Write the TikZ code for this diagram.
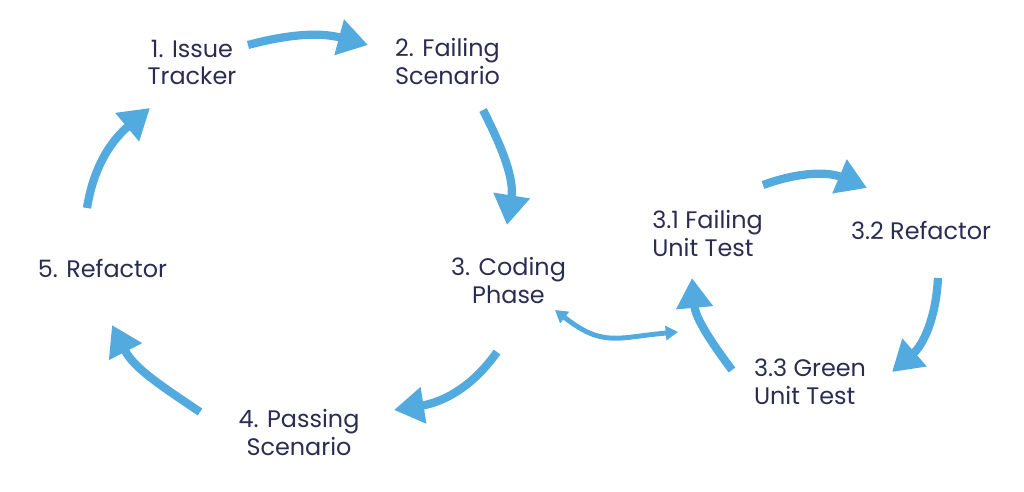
\documentclass[tikz,border=0pt]{standalone}
\usepackage{fontspec}
\setmainfont{Poppins}
\usetikzlibrary{arrows.meta}
\definecolor{flowblue}{RGB}{83,170,222}
\definecolor{inkblue}{RGB}{42,44,82}

\begin{document}
\begin{tikzpicture}[x=0.02cm,y=0.02cm]
    \tikzstyle{every node}=[text=inkblue,font=\fontsize{13.6}{15.9}\selectfont,inner sep=0pt]
    \tikzstyle{flow}=[draw=flowblue,line width=4.7pt,-{Triangle[length=17pt,width=20pt]}]
    \tikzstyle{link}=[draw=flowblue,line width=2.8pt,{Triangle[length=7pt,width=8pt]}-{Triangle[length=7pt,width=8pt]}]
    \useasboundingbox (0,0) rectangle (1024,491);

    % outer loop
    \node[align=center] (issue) at (192,428.5) {1. Issue\\Tracker};
    \node[align=center] (fail) at (447.5,429.5) {2. Failing\\Scenario};
    \node[align=center] (code) at (508.5,210.5) {3. Coding\\Phase};
    \node[align=center] (pass) at (299,58.5) {4. Passing\\Scenario};
    \node (refac) at (102.5,222.5) {5. Refactor};

    % inner loop
    \node[align=left] (unitfail) at (707.5,257.5) {3.1 Failing\\Unit Test};
    \node (unitrefac) at (921,261) {3.2 Refactor};
    \node[align=left] (unitgreen) at (810,109.5) {3.3 Green\\Unit Test};

    % outer arrows
    \draw[flow] ([shift={(56,17.5)}]issue.center) to[out=15,in=165] ([shift={(-79.5,16.5)}]fail.center);
    \draw[flow] ([shift={(35.5,-48.5)}]fail.center) to[out=-63,in=81] ([shift={(-1.5,55.5)}]code.center);
    \draw[flow] ([shift={(-11.5,-71.5)}]code.center) to[out=-125,in=9] ([shift={(95,22.5)}]pass.center);
    \draw[flow] ([shift={(-99,20.5)}]pass.center) to[out=146,in=-63] ([shift={(9.5,-56.5)}]refac.center);
    \draw[flow] ([shift={(-15.5,60.5)}]refac.center) to[out=81,in=220] ([shift={(-42,-45.5)}]issue.center);

    % link between loops
    \draw[link] ([shift={(46.5,-29.5)}]code.center) to[out=-38,in=185,looseness=1.25] ([shift={(-29.5,-98.5)}]unitfail.center);

    % inner arrows
    \draw[flow] ([shift={(55.5,48.5)}]unitfail.center) to[out=20,in=157] ([shift={(-54,42)}]unitrefac.center);
    \draw[flow] ([shift={(17,-48)}]unitrefac.center) to[out=-93,in=41] ([shift={(82,9.5)}]unitgreen.center);
    \draw[flow] ([shift={(-78,11.5)}]unitgreen.center) to[out=127,in=-85] ([shift={(-15.5,-44.5)}]unitfail.center);
\end{tikzpicture}
\end{document}
